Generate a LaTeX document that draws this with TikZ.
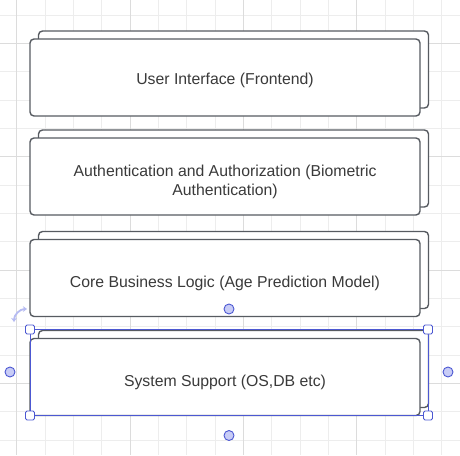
\documentclass[tikz,border=0pt]{standalone}
\usepackage{fontspec}
\setmainfont{Liberation Sans}
\usetikzlibrary{arrows.meta}
\definecolor{gridminor}{HTML}{EDEDED}
\definecolor{gridmajor}{HTML}{DCDCDC}
\definecolor{cardline}{HTML}{575B61}
\definecolor{cardtext}{HTML}{3A3A3A}
\definecolor{selblue}{HTML}{4C58D2}
\definecolor{selfill}{HTML}{C8CCF6}
\definecolor{rotblue}{HTML}{B6BBF2}
\tikzset{
  card/.style={draw=cardline, fill=white, line width=1.4pt, rounded corners=4pt,
    minimum width=390pt, minimum height=77pt, inner sep=0pt},
  cardlabel/.style={text=cardtext, font=\fontsize{15.8}{19}\selectfont, align=center, inner sep=0pt},
  grip/.style={circle, draw=selblue, fill=selfill, line width=0.9pt, minimum size=10pt, inner sep=0pt},
  cornerbox/.style={rectangle, draw=selblue, fill=white, line width=0.9pt, minimum size=9pt,
    inner sep=0pt, rounded corners=1.5pt},
}
\begin{document}
\begin{tikzpicture}[x=1pt,y=-1pt]
  \fill[white] (0,0) rectangle (460,455);
  \useasboundingbox (0,0) rectangle (460,455);

  % Draw grid
  \foreach \k in {0,...,15} {
    \draw[gridminor, line width=0.8pt] ({16.7+28.33*\k},0) -- ++(0,455);
    \draw[gridminor, line width=0.8pt] (0,{15+28.33*\k}) -- ++(460,0);
  }
  \foreach \k in {0,4,8,12} \draw[gridmajor, line width=0.8pt] ({16.7+28.33*\k},0) -- ++(0,455);
  \foreach \k in {1,5,9,13} \draw[gridmajor, line width=0.8pt] (0,{15+28.33*\k}) -- ++(460,0);

  % Draw layers
  \node[card] (ui-back) at (233.5, 69.5) {};
  \node[card] (ui) at (225, 77.5) {};
  \node[cardlabel] (ui-text) at ([yshift=-2.6pt]ui.center) {User Interface (Frontend)};

  \node[card] (auth-back) at (233.5, 168.5) {};
  \node[card] (auth) at (225, 176.5) {};
  \node[cardlabel] (auth-text) at ([yshift=-5.6pt]auth.center)
    {Authentication and Authorization (Biometric\\Authentication)};

  \node[card] (core-back) at (233.5, 270) {};
  \node[card] (core) at (225, 278) {};
  \node[cardlabel] (core-text) at ([yshift=-5.6pt]core.center) {Core Business Logic (Age Prediction Model)};

  \node[card] (sys-back) at (233.5, 369) {};
  \node[card] (sys) at (225, 377) {};
  \node[cardlabel] (sys-text) at ([yshift=-5.6pt]sys.center) {System Support (OS,DB etc)};

  % Selection frame
  \coordinate (sel-nw) at (30,329.5);
  \coordinate (sel-ne) at (428,329.5);
  \coordinate (sel-sw) at (30,415.5);
  \coordinate (sel-se) at (428,415.5);
  \draw[selblue, line width=0.9pt] (sel-nw) rectangle (sel-se);
  \node[cornerbox] (h-nw) at (sel-nw) {};
  \node[cornerbox] (h-ne) at (sel-ne) {};
  \node[cornerbox] (h-sw) at (sel-sw) {};
  \node[cornerbox] (h-se) at (sel-se) {};
  \node[grip] (g-n) at (229,309) {};
  \node[grip] (g-s) at (229,435.5) {};
  \node[grip] (g-w) at (10,372) {};
  \node[grip] (g-e) at (448,372) {};

  % Rotate handle
  \coordinate (rot-start) at (14,322);
  \draw[rotblue, line width=1.8pt, {Stealth[length=4pt,width=5.5pt]}-{Stealth[length=4pt,width=5.5pt]}]
    (rot-start) arc[start angle=180, end angle=90, radius=13pt];
\end{tikzpicture}
\end{document}
